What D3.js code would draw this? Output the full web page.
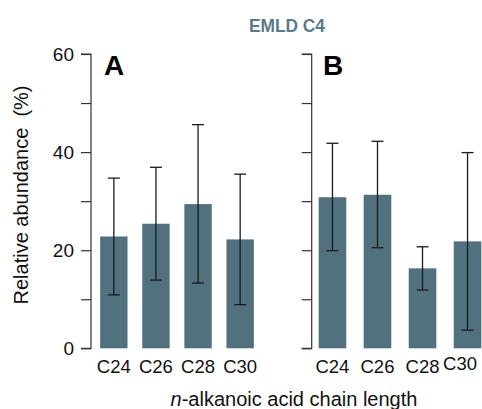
<!DOCTYPE html>
<html>
<head>
<meta charset="utf-8">
<script src="https://cdn.jsdelivr.net/npm/d3@7"></script>
<style>
html,body{margin:0;padding:0;background:#fff;}
svg{display:block;font-family:"Liberation Sans",Arial,sans-serif;}
</style>
</head>
<body>
<svg id="chart" width="482" height="409"></svg>
<script>
const categories = ["C24", "C26", "C28", "C30"];
const meanA = [22.8, 25.4, 29.4, 22.2];
const lowA  = [10.9, 13.9, 13.3, 8.9];
const highA = [34.7, 36.9, 45.6, 35.5];
const meanB = [30.8, 31.3, 16.3, 21.8];
const lowB  = [19.9, 20.5, 11.9, 3.7];
const highB = [41.8, 42.2, 20.7, 39.9];
const yTicks = [0, 10, 20, 30, 40, 50, 60];
const yTickLabels = ["0", "", "20", "", "40", "", "60"];

const svg = d3.select("#chart");
const barColor = "#52717f";
const axisColor = "#333";
const W = 482;

const y = d3.scaleLinear().domain([0, 60]).range([348.3, 54]);

const panels = [
  {label: "A", mean: meanA, low: lowA, high: highA, axisX: 91, range: [93, 261], labels: true, labelX: 104},
  {label: "B", mean: meanB, low: lowB, high: highB, axisX: 311.7, range: [311, 489], labels: false, labelX: 323}
];

panels.forEach(p => {
  const x = d3.scaleBand().domain(categories).range(p.range).paddingInner(p.label === "A" ? 0.35 : 0.387).paddingOuter(0.17);
  const g = svg.append("g");

  // y axis
  const ax = d3.axisLeft(y).tickValues(yTicks).tickSize(10).tickPadding(7)
    .tickFormat((d, i) => p.labels ? yTickLabels[i] : "");
  const ag = g.append("g").attr("transform", `translate(${p.axisX},0)`).call(ax);
  ag.select(".domain").attr("stroke", axisColor).attr("stroke-width", 1.2).attr("d", `M-10,${y(60)}H0V${y(0)}H-10`);
  ag.selectAll(".tick line").attr("stroke", axisColor).attr("stroke-width", 1.2);
  ag.selectAll(".tick text").attr("font-size", 19).attr("fill", "#111").attr("font-family", "Liberation Sans, Arial, sans-serif");

  // bars
  g.selectAll("rect.bar").data(categories).join("rect")
    .attr("class", "bar")
    .attr("x", d => x(d))
    .attr("width", x.bandwidth())
    .attr("y", (d, i) => y(p.mean[i]))
    .attr("height", (d, i) => y(0) - y(p.mean[i]))
    .attr("fill", barColor);

  // error bars
  const cap = 6;
  const eb = g.selectAll("g.err").data(categories).join("g").attr("class", "err")
    .attr("transform", d => `translate(${x(d) + x.bandwidth() / 2},0)`);
  eb.append("line").attr("y1", (d, i) => y(p.low[i])).attr("y2", (d, i) => y(p.high[i]))
    .attr("stroke", "#1a1a1a").attr("stroke-width", 1.3);
  eb.append("line").attr("x1", -cap).attr("x2", cap).attr("y1", (d, i) => y(p.high[i])).attr("y2", (d, i) => y(p.high[i]))
    .attr("stroke", "#1a1a1a").attr("stroke-width", 1.3);
  eb.append("line").attr("x1", -cap).attr("x2", cap).attr("y1", (d, i) => y(p.low[i])).attr("y2", (d, i) => y(p.low[i]))
    .attr("stroke", "#1a1a1a").attr("stroke-width", 1.3);

  // x category labels (kept inside the canvas)
  g.selectAll("text.cat").data(categories).join("text")
    .attr("class", "cat")
    .attr("y", 373)
    .attr("text-anchor", "middle")
    .attr("font-size", 18.5)
    .attr("fill", "#111")
    .text(d => d)
    .each(function(d) {
      const half = this.getComputedTextLength() / 2;
      const cx = Math.min(x(d) + x.bandwidth() / 2, W - 5 - half);
      d3.select(this).attr("x", cx);
      if (cx < x(d) + x.bandwidth() / 2 - 1) d3.select(this).attr("y", 370);
    });

  // panel label
  g.append("text").attr("x", p.labelX).attr("y", 75)
    .attr("font-size", 28).attr("font-weight", "bold").attr("fill", "#000")
    .text(p.label);
});

// title
svg.append("text").attr("x", 287).attr("y", 32).attr("text-anchor", "middle")
  .attr("font-family", "'Liberation Sans Narrow', 'Arial Narrow', 'Liberation Sans', Arial, sans-serif")
  .attr("font-size", 19).attr("font-weight", "bold").attr("fill", "#5a7b8b")
  .attr("textLength", 76).attr("lengthAdjust", "spacingAndGlyphs")
  .text("EMLD C4");

// y axis title
svg.append("text").attr("transform", "translate(28,195) rotate(-90)")
  .attr("text-anchor", "middle").attr("font-size", 20).attr("fill", "#111")
  .style("white-space", "pre")
  .text("Relative abundance  (%)");

// x axis title
const xt = svg.append("text").attr("x", 294).attr("y", 406).attr("text-anchor", "middle")
  .attr("font-size", 20).attr("fill", "#111");
xt.append("tspan").attr("font-style", "italic").text("n");
xt.append("tspan").text("-alkanoic acid chain length");
</script>
</body>
</html>
